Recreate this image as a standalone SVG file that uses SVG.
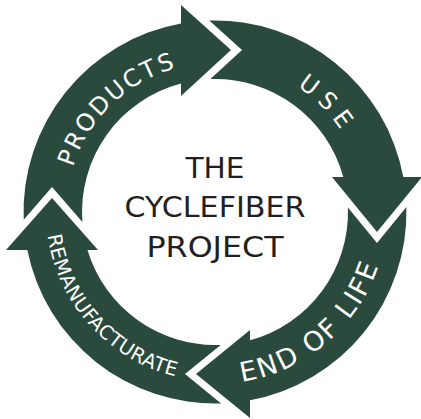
<svg xmlns="http://www.w3.org/2000/svg" xmlns:xlink="http://www.w3.org/1999/xlink" width="421" height="419" viewBox="0 0 421 419">
<style>
.seg{fill:#2b4a3e;stroke:none}
.lbl{fill:#ffffff;font-family:"DejaVu Sans","Liberation Sans",sans-serif}
.title{fill:#231f20;font-family:"DejaVu Sans","Liberation Sans",sans-serif;font-size:28px;text-anchor:middle}
</style>
<defs>
<path id="tp-products" d="M 70.43,248.04 A 149 149 0 0 1 256.06,68.77"/>
<path id="tp-use" d="M 176.18,67.11 A 150 150 0 0 1 359.89,250.82"/>
<path id="tp-end" d="M 129.77,361.40 A 172 172 0 0 0 376.32,152.33"/>
<path id="tp-reman" d="M 65.5,133.18 A 169 169 0 0 0 278.85,368.48"/>
</defs>
<rect width="421" height="419" fill="#ffffff"/>
<g id="stage-products">
<path class="seg" d="M 23.7,219.8 A 191.5 191.5 0 0 1 181,23.5 L 181,5 L 231,50 L 181,96 L 181,83.4 A 133 133 0 0 0 82.4,222.1 L 52,187 Z"/>
<text class="lbl" font-size="24"><textPath xlink:href="#tp-products" href="#tp-products" startOffset="50%" text-anchor="middle" textLength="148" lengthAdjust="spacing">PRODUCTS</textPath></text>
</g>
<g id="stage-use">
<path class="seg" d="M 209.3,20.6 A 191.5 191.5 0 0 1 403.3,177 L 422,177 L 377,232 L 332,177 L 343.3,177 A 133 133 0 0 0 210.4,79.1 L 242,50 Z"/>
<text class="lbl" font-size="24"><textPath xlink:href="#tp-use" href="#tp-use" startOffset="50%" text-anchor="middle" textLength="62" lengthAdjust="spacing">USE</textPath></text>
</g>
<g id="stage-end-of-life">
<path class="seg" d="M 406.4,207 A 191.5 191.5 0 0 1 250,400.3 L 250,418 L 196,374 L 250,330 L 250,340.3 A 133 133 0 0 0 347.9,207.5 L 377,243 Z"/>
<text class="lbl" font-size="27"><textPath xlink:href="#tp-end" href="#tp-end" startOffset="50%" text-anchor="middle" textLength="188" lengthAdjust="spacing">END OF LIFE</textPath></text>
</g>
<g id="stage-remanufacturate">
<path class="seg" d="M 221.1,403.4 A 191.5 191.5 0 0 1 27.3,250 L 6,250 L 52,198 L 98,250 L 87.5,250 A 133 133 0 0 0 220.7,344.9 L 185,374 Z"/>
<text class="lbl" font-size="19.5"><textPath xlink:href="#tp-reman" href="#tp-reman" startOffset="50%" text-anchor="middle" textLength="202" lengthAdjust="spacing">REMANUFACTURATE</textPath></text>
</g>
<g id="title">
<text class="title" x="215" y="178" textLength="59" lengthAdjust="spacingAndGlyphs">THE</text>
<text class="title" x="215" y="217" textLength="181" lengthAdjust="spacingAndGlyphs">CYCLEFIBER</text>
<text class="title" x="215" y="257" textLength="137" lengthAdjust="spacingAndGlyphs">PROJECT</text>
</g>
</svg>
